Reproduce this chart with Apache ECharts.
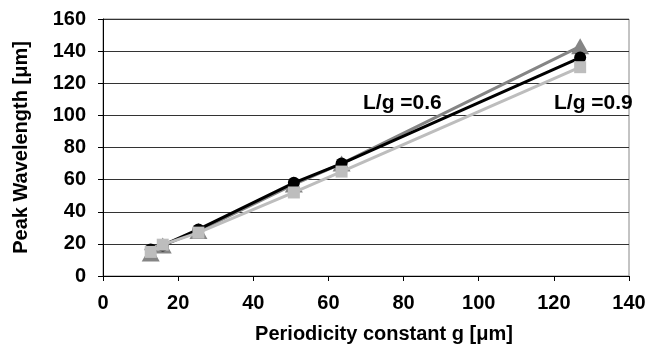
<!DOCTYPE html>
<html>
<head>
<meta charset="utf-8">
<script src="https://cdn.jsdelivr.net/npm/echarts@6/dist/echarts.min.js"></script>
<style>
  html, body { margin: 0; padding: 0; background: #fff; }
  #chart { width: 653px; height: 349px; }
</style>
</head>
<body>
<div id="chart"></div>
<script>
// Periodicity constant g [µm]
const gValues = [12.7, 15.9, 25.4, 50.8, 63.5, 127];
// Peak wavelength [µm] for the three structures
const triangleSeries = [14, 19, 28, 57, 70, 143];
const circleSeries = [16.5, 19, 29, 58, 70, 136];
const squareSeries = [15, 19.5, 27, 52, 65, 130];

const xTicks = { min: 0, max: 140, interval: 20 };
const yTicks = { min: 0, max: 160, interval: 20 };

const annotations = ['L/g =0.6', 'L/g =0.9'];

const pairs = (ys) => gValues.map((g, i) => [g, ys[i]]);
const font = 'Liberation Sans, Arial, sans-serif';

const chart = echarts.init(document.getElementById('chart'), null, { renderer: 'canvas' });
chart.setOption({
  animation: false,
  backgroundColor: '#fff',
  grid: { left: 103, right: 24, top: 19, bottom: 72, show: true, borderColor: '#888', borderWidth: 1 },
  xAxis: {
    type: 'value', min: xTicks.min, max: xTicks.max, interval: xTicks.interval,
    name: 'Periodicity constant g [μm]', nameLocation: 'middle', nameGap: 48,
    nameTextStyle: { fontFamily: font, fontWeight: 'bold', fontSize: 20, color: '#000', padding: [0, 0, 0, 36] },
    axisLine: { onZero: false, lineStyle: { color: '#000', width: 1 } },
    axisTick: { show: true, length: 5, lineStyle: { color: '#000' } },
    axisLabel: { fontFamily: font, fontWeight: 'bold', fontSize: 20, color: '#000', margin: 17 },
    splitLine: { show: false }
  },
  yAxis: {
    type: 'value', min: yTicks.min, max: yTicks.max, interval: yTicks.interval,
    name: 'Peak Wavelength [μm]', nameLocation: 'middle', nameGap: 72,
    nameTextStyle: { fontFamily: font, fontWeight: 'bold', fontSize: 20, color: '#000' },
    axisLine: { show: true, lineStyle: { color: '#000', width: 1 } },
    axisTick: { show: true, length: 5, lineStyle: { color: '#000' } },
    axisLabel: { fontFamily: font, fontWeight: 'bold', fontSize: 20, color: '#000', margin: 17 },
    splitLine: { show: true, lineStyle: { color: '#333', width: 1 } }
  },
  series: [
    {
      type: 'line', data: pairs(triangleSeries), symbol: 'triangle', symbolSize: [18, 16],
      lineStyle: { color: '#858585', width: 3 }, itemStyle: { color: '#858585' }, z: 2
    },
    {
      type: 'line', data: pairs(circleSeries), symbol: 'circle', symbolSize: 12,
      lineStyle: { color: '#000', width: 3 }, itemStyle: { color: '#000' }, z: 3
    },
    {
      type: 'line', data: pairs(squareSeries), symbol: 'rect', symbolSize: 12,
      lineStyle: { color: '#bdbdbd', width: 3 }, itemStyle: { color: '#bdbdbd' }, z: 4
    }
  ],
  graphic: [
    { type: 'text', left: 363, top: 93, style: { text: annotations[0], font: 'bold 21px ' + font, fill: '#000' } },
    { type: 'text', left: 554, top: 93, style: { text: annotations[1], font: 'bold 21px ' + font, fill: '#000' } }
  ]
});
</script>
</body>
</html>
